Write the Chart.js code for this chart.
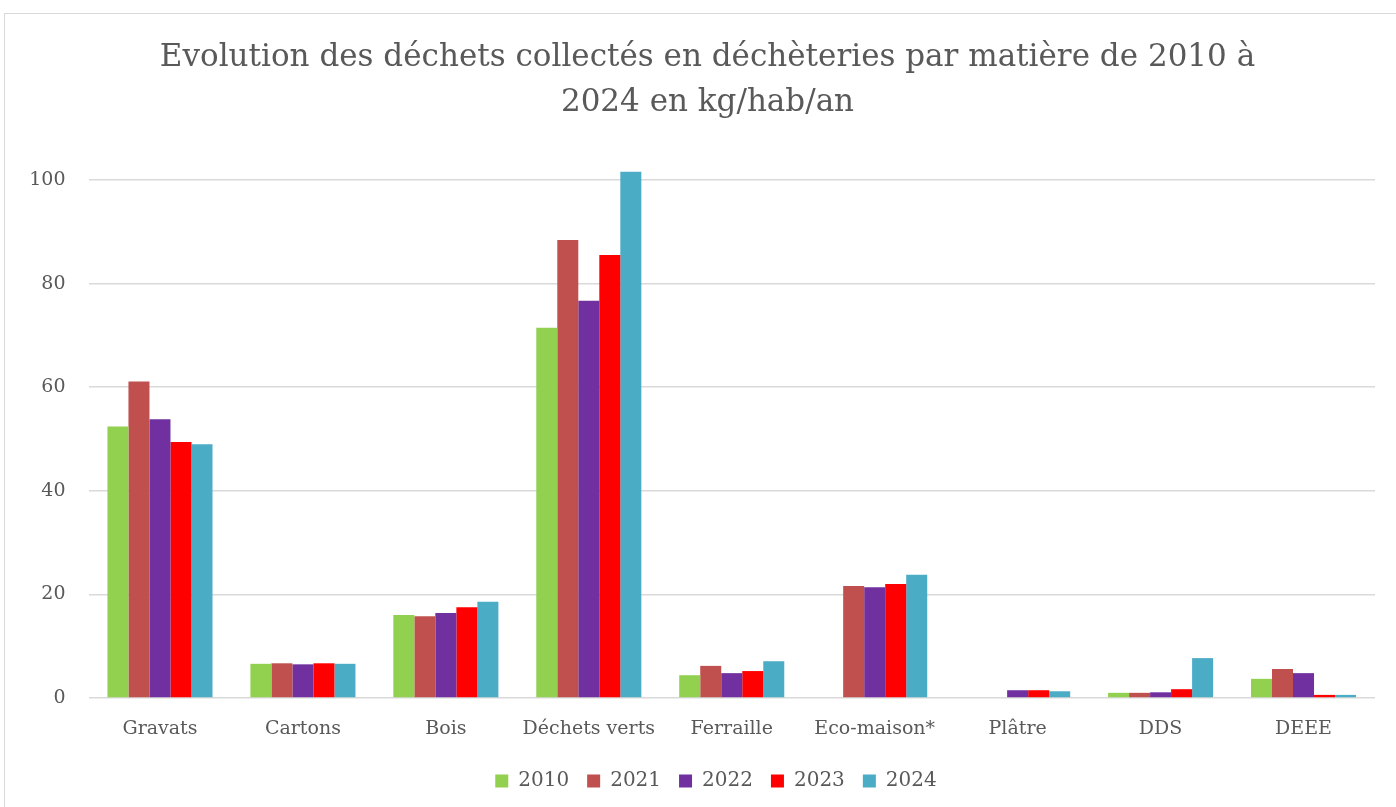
<!DOCTYPE html>
<html lang="fr">
<head>
<meta charset="utf-8">
<title>Déchets collectés en déchèteries</title>
<script src="https://cdn.jsdelivr.net/npm/chart.js@4/dist/chart.umd.min.js"></script>
<style>
  html, body { margin: 0; padding: 0; background: #fff; overflow: hidden; }
  #wrap { position: relative; width: 1396px; height: 807px; }
  #frame { position: absolute; left: 4px; top: 13px; width: 1500px; height: 900px;
           border: 1.5px solid #d9d9d9; pointer-events: none; }
  canvas { position: absolute; left: 0; top: 0; }
</style>
</head>
<body>
<div id="wrap">
  <canvas id="chart" width="1396" height="807"></canvas>
  <div id="frame"></div>
</div>
<script>
// données (kg/hab/an)
const categories = ["Gravats", "Cartons", "Bois", "Déchets verts", "Ferraille", "Eco-maison*", "Plâtre", "DDS", "DEEE"];
const years = ["2010", "2021", "2022", "2023", "2024"];
const colors = ["#92D050", "#C0504D", "#7030A0", "#FF0000", "#4BACC6"];

const v2010 = [52.4, 6.6, 16.0, 71.5, 4.4, 0, 0, 1.0, 3.7];
const v2021 = [61.1, 6.7, 15.8, 88.4, 6.2, 21.6, 0, 1.0, 5.6];
const v2022 = [53.8, 6.5, 16.4, 76.7, 4.8, 21.4, 1.5, 1.1, 4.8];
const v2023 = [49.4, 6.7, 17.5, 85.5, 5.2, 22.0, 1.5, 1.7, 0.6];
const v2024 = [49.0, 6.6, 18.6, 101.6, 7.1, 23.8, 1.3, 7.7, 0.6];
const series = [v2010, v2021, v2022, v2023, v2024];

const yTicks = [0, 20, 40, 60, 80, 100];

const FONT = "'DejaVu Serif', 'Liberation Serif', serif";
const TXT = "#595959";

const datasets = years.map((y, i) => ({
  label: y,
  data: series[i],
  backgroundColor: colors[i],
  borderWidth: 0,
  categoryPercentage: 0.735,
  barPercentage: 1,
  clip: false
}));

// titre et légende un peu décalés vers la droite (centrés sur la zone, pas sur le canvas)
const shiftBoxes = {
  id: "shiftBoxes",
  afterLayout(chart) {
    chart.legend.left += 28.5; chart.legend.right += 28.5;
    chart.titleBlock.left += 20; chart.titleBlock.right += 20;
  }
};

new Chart(document.getElementById("chart"), {
  type: "bar",
  data: { labels: categories, datasets },
  plugins: [shiftBoxes],
  options: {
    responsive: false,
    animation: false,
    layout: { padding: { left: 0, right: 21, top: 0, bottom: 6 } },
    plugins: {
      title: {
        display: true,
        text: ["Evolution des déchets collectés en déchèteries par matière de 2010 à", "2024 en kg/hab/an"],
        color: TXT,
        font: { family: FONT, size: 31, weight: "normal", lineHeight: 1.4516 },
        padding: { top: 35.5, bottom: 54.5 }
      },
      legend: {
        position: "bottom",
        labels: {
          color: TXT,
          font: { family: FONT, size: 20 },
          boxWidth: 13,
          boxHeight: 13,
          padding: 18
        }
      },
      tooltip: { enabled: false }
    },
    scales: {
      x: {
        grid: { display: false, drawTicks: false },
        border: { display: false },
        ticks: { color: TXT, font: { family: FONT, size: 19 }, padding: 20, maxRotation: 0 },
        afterFit: s => { s.height = 55; }
      },
      y: {
        min: 0,
        max: 100,
        afterBuildTicks: s => { s.ticks = yTicks.map(v => ({ value: v })); },
        grid: { color: "#d9d9d9", lineWidth: 1.5, drawTicks: false },
        border: { display: false },
        ticks: { color: TXT, font: { family: FONT, size: 19 }, padding: 23 },
        afterFit: s => { s.width = 88.5; }
      }
    }
  }
});
</script>
</body>
</html>
